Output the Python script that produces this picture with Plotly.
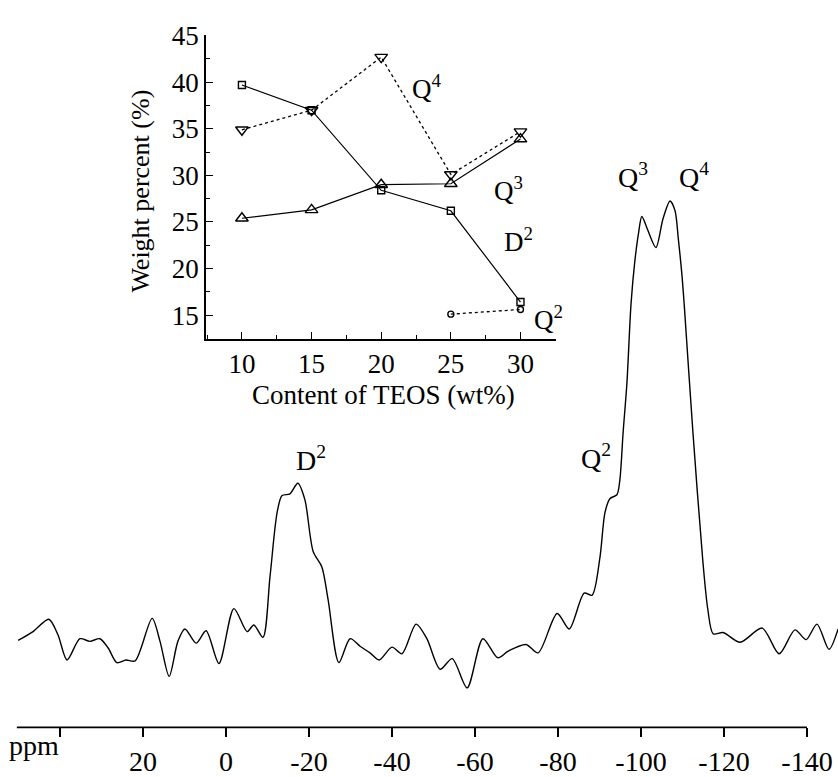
import plotly.graph_objects as go

# ---- main 29Si NMR spectrum (ppm, arbitrary intensity) ----
ppm = [50.1, 46.5, 42.7, 40.5, 38.3, 35.2, 32.8, 30.4, 28.4, 26.3, 24.1, 21.9,
       17.8, 15.9, 13.7, 11.6, 9.9, 7.2, 4.8, 1.7, -1.9, -5.1, -6.7, -8.9,
       -10.6, -12.3, -13.5, -15.4, -17.3, -19.0, -21.0, -23.1, -24.6, -27.2,
       -29.9, -32.3, -34.7, -36.9, -40.0, -42.4, -45.8, -48.4, -51.6, -54.5,
       -58.1, -61.9, -65.5, -68.0, -72.3, -75.2, -79.8, -82.7, -86.3, -88.2,
       -90.1, -91.3, -92.5, -94.2, -94.9, -95.7, -96.6, -97.6, -98.5, -99.4,
       -100.2, -101.6, -103.6, -105.3, -107.0, -108.2, -109.0, -109.8, -110.4,
       -112.5, -114.9, -116.1, -117.4, -119.8, -123.9, -129.2, -133.3, -137.1,
       -139.8, -142.4, -145.3, -147.5]
intensity = [1.3, 3.3, 6.1, 2.6, -3.1, 1.7, 1.1, 1.7, -0.4, -3.7, -3.1, -3.3,
             6.3, 1.1, -6.8, 1.1, 3.9, 0.7, 3.5, -3.9, 8.5, 3.3, 4.8, 2.0,
             15.7, 30.1, 34.0, 34.4, 36.8, 33.1, 21.4, 17.9, 10.5, -3.7,
             1.7, 0.0, -1.5, -3.1, -0.2, -1.7, 5.0, 1.7, -5.2, -2.8,
             -9.4, 1.7, -2.6, -1.1, 0.4, -1.5, 7.4, 3.9, 12.0, 11.5,
             20.0, 30.1, 33.3, 34.2, 37.5, 48.4, 59.3, 77.3, 86.8, 93.2,
             97.0, 94.0, 90.0, 96.5, 100.5, 98.3, 91.9, 84.5, 77.3,
             48.4, 19.2, 8.3, 2.8, 3.1, 0.9, 4.1, -1.7, 3.7,
             1.5, 5.0, -0.7, 3.9]

ppm_tickvals = [40, 20, 0, -20, -40, -60, -80, -100, -120, -140]
ppm_ticktext = ["", "20", "0", "-20", "-40", "-60", "-80", "-100", "-120", "-140"]

# ---- inset: weight percent vs TEOS content ----
teos = [10, 15, 20, 25, 30]
d2_wt = [39.7, 37.0, 28.4, 26.2, 16.4]
q3_wt = [25.4, 26.3, 29.0, 29.1, 33.9]
q4_wt = [34.9, 37.0, 42.7, 30.1, 34.7]
q2_teos = [25, 30]
q2_wt = [15.1, 15.6]

FONT = "Liberation Serif"
BLACK = "black"

fig = go.Figure()

fig.add_trace(go.Scatter(
    x=ppm, y=intensity, mode="lines", xaxis="x", yaxis="y",
    line=dict(color=BLACK, width=1.4, shape="spline", smoothing=0.8),
    showlegend=False, hoverinfo="skip"))

fig.add_trace(go.Scatter(
    x=teos, y=d2_wt, mode="lines+markers", xaxis="x2", yaxis="y2",
    line=dict(color=BLACK, width=1.2),
    marker=dict(symbol="square-open", size=7, color=BLACK, line=dict(width=1.4)),
    showlegend=False))
fig.add_trace(go.Scatter(
    x=teos, y=q3_wt, mode="lines+markers", xaxis="x2", yaxis="y2",
    line=dict(color=BLACK, width=1.2),
    marker=dict(symbol="triangle-up-open", size=11, color=BLACK, line=dict(width=1.4)),
    showlegend=False))
fig.add_trace(go.Scatter(
    x=teos, y=q4_wt, mode="lines+markers", xaxis="x2", yaxis="y2",
    line=dict(color=BLACK, width=1.3, dash="dot"),
    marker=dict(symbol="triangle-down-open", size=11, color=BLACK, line=dict(width=1.4)),
    showlegend=False))
fig.add_trace(go.Scatter(
    x=q2_teos, y=q2_wt, mode="lines+markers", xaxis="x2", yaxis="y2",
    line=dict(color=BLACK, width=1.3, dash="dot"),
    marker=dict(symbol="circle-open", size=6, color=BLACK, line=dict(width=1.4)),
    showlegend=False))

axis_y_paper = 1 - 739 / 777

# bottom ppm axis line (ends at -140)
fig.add_shape(type="line", xref="x", yref="paper", x0=50.4, x1=-140,
              y0=axis_y_paper, y1=axis_y_paper, line=dict(color=BLACK, width=1.8))

ann = []
def lab(text, px, py, size=28):
    ann.append(dict(text=text, x=px / 838, y=1 - py / 777, xref="paper", yref="paper",
                    showarrow=False, xanchor="center", yanchor="middle",
                    font=dict(family=FONT, size=size, color=BLACK)))

lab("ppm", 34, 758)
lab("D<sup>2</sup>", 311, 460)
lab("Q<sup>2</sup>", 596, 458)
lab("Q<sup>3</sup>", 633, 167)
lab("Q<sup>4</sup>", 694, 167)
lab("Q<sup>4</sup>", 427, 76, 27)
lab("Q<sup>3</sup>", 508, 181, 27)
lab("D<sup>2</sup>", 518, 234, 27)
lab("Q<sup>2</sup>", 548, 315, 27)
lab("Content of TEOS (wt%)", 383, 395, 27)
ann.append(dict(text="Weight percent (%)", x=141 / 838, y=1 - 184 / 777,
                xref="paper", yref="paper", showarrow=False, textangle=-90,
                xanchor="center", yanchor="middle",
                font=dict(family=FONT, size=26, color=BLACK)))

fig.update_layout(
    width=838, height=777, margin=dict(l=0, r=0, t=0, b=0),
    paper_bgcolor="white", plot_bgcolor="rgba(0,0,0,0)", showlegend=False,
    annotations=ann,
    xaxis=dict(range=[54.46, -147.47], domain=[0, 1], anchor="y",
               showline=False, showgrid=False, zeroline=False,
               ticks="outside", ticklen=9, tickwidth=1.5, tickcolor=BLACK,
               tickvals=ppm_tickvals, ticktext=ppm_ticktext,
               tickfont=dict(family=FONT, size=28, color=BLACK)),
    yaxis=dict(domain=[axis_y_paper, 1], range=[-18.3, 142.7], visible=False,
               showgrid=False, zeroline=False),
    xaxis2=dict(domain=[206 / 838, 556 / 838], anchor="y2", range=[7.42, 32.55],
                showline=True, linecolor=BLACK, linewidth=1.6, mirror=False,
                showgrid=False, zeroline=False,
                ticks="inside", ticklen=7, tickwidth=1.3, tickcolor=BLACK,
                tick0=0, dtick=5,
                minor=dict(ticks="inside", ticklen=4, tickwidth=1.2, tickcolor=BLACK,
                           tick0=0, dtick=2.5, showgrid=False),
                tickfont=dict(family=FONT, size=27, color=BLACK)),
    yaxis2=dict(domain=[1 - 337 / 777, 1 - 22 / 777], anchor="x2", range=[12.4, 45.05],
                showline=True, linecolor=BLACK, linewidth=1.6, mirror=False,
                showgrid=False, zeroline=False,
                ticks="inside", ticklen=7, tickwidth=1.3, tickcolor=BLACK,
                tick0=0, dtick=5,
                minor=dict(ticks="inside", ticklen=4, tickwidth=1.2, tickcolor=BLACK,
                           tick0=0, dtick=2.5, showgrid=False),
                tickfont=dict(family=FONT, size=27, color=BLACK)),
)

fig.write_html("out.html")
